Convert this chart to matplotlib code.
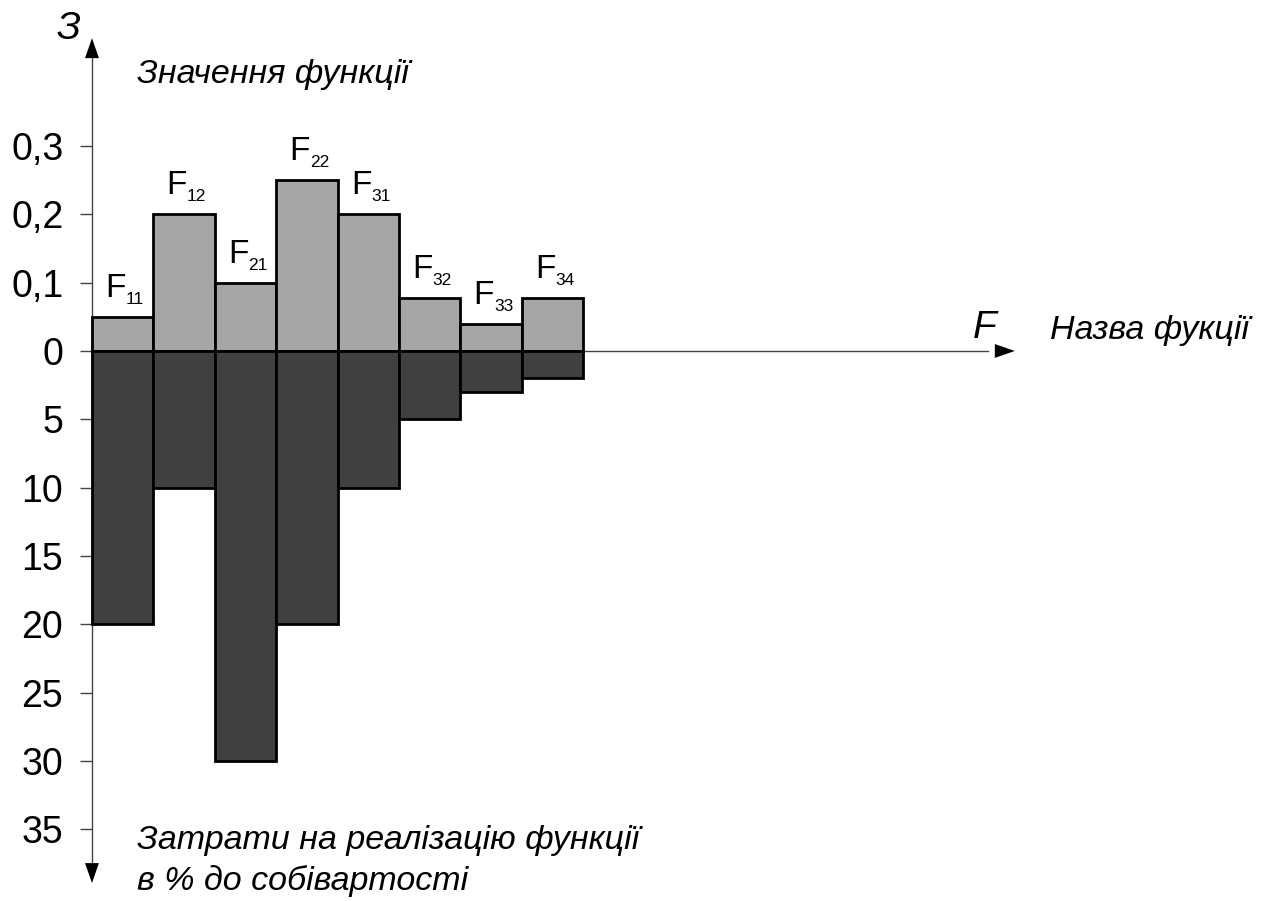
import matplotlib.pyplot as plt
import numpy as np

plt.rcParams['font.family'] = ['Liberation Sans', 'DejaVu Sans']

# function indices (subscripts of F)
functions = ['11', '12', '21', '22', '31', '32', '33', '34']
# value of each function (upper half)
value = [0.05, 0.2, 0.1, 0.25, 0.2, 0.078, 0.04, 0.078]
# cost of realising the function, % of prime cost (lower half)
cost = [20, 10, 30, 20, 10, 5, 3, 2]

upper_ticks = [0.1, 0.2, 0.3]
lower_ticks = [5, 10, 15, 20, 25, 30, 35]

scale = 50  # 0.1 of value is drawn as tall as 5 % of cost

fig = plt.figure(figsize=(12.69, 9.01), dpi=100)
ax = fig.add_axes([0, 0, 1, 1])
ax.set_xlim(-1.498, 19.17)
ax.set_ylim(-40.26, 25.69)

x = np.arange(len(functions))
up = np.array(value) * scale
down = -np.array(cost)
ax.bar(x, up, width=1, align='edge', color='#a6a6a6', edgecolor='black', lw=2, zorder=3)
ax.bar(x, down, width=1, align='edge', color='#404040', edgecolor='black', lw=2, zorder=3)

# y ticks: value labels above zero, cost labels below
ticks = [v * scale for v in upper_ticks] + [0] + [-c for c in lower_ticks]
labels = [('%.1f' % v).replace('.', ',') for v in upper_ticks] + ['0'] + [str(c) for c in lower_ticks]
ax.set_yticks(ticks)
ax.set_yticklabels(labels)
ax.set_xticks([])

for s in ['top', 'right']:
    ax.spines[s].set_visible(False)
ax.spines['left'].set_position(('data', 0))
ax.spines['bottom'].set_position(('data', 0))
ax.spines['left'].set_bounds(-38.0, 22.0)
ax.spines['bottom'].set_bounds(0, 14.6)
ax.spines['left'].set_color('#444444')
ax.spines['bottom'].set_color('#444444')
ax.spines['left'].set_linewidth(1)
ax.spines['bottom'].set_linewidth(1)
ax.tick_params(axis='y', direction='out', length=8.6, width=1, color='#444444',
               labelsize=27, pad=12)

# arrow heads
head = dict(arrowstyle='-|>,head_length=1.44,head_width=0.5', mutation_scale=10,
            fc='black', ec='black', lw=0, shrinkA=0, shrinkB=0)
ax.annotate('', xy=(0, 22.9), xytext=(0, 21.0), arrowprops=head)
ax.annotate('', xy=(0, -38.95), xytext=(0, -37.0), arrowprops=head)
ax.annotate('', xy=(15.03, 0), xytext=(14.5, 0), arrowprops=head)

# bar labels F with subscript
for i, f in enumerate(functions):
    ax.annotate('F', xy=(x[i] + 0.5, up[i]), xytext=(3, 20), textcoords='offset pixels',
                ha='right', va='baseline', fontsize=24)
    ax.annotate(f, xy=(x[i] + 0.5, up[i]), xytext=(3, 13), textcoords='offset pixels',
                ha='left', va='baseline', fontsize=12.5)

W, H = 1269, 901
fig.text(69 / W, 1 - 29 / H, 'З', ha='center', va='center', fontsize=28, style='italic')
fig.text(137 / W, 1 - 75 / H, 'Значення функції', ha='left', va='center', fontsize=24.5, style='italic')
fig.text(985 / W, 1 - 328 / H, 'F', ha='center', va='center', fontsize=28, style='italic')
fig.text(1050 / W, 1 - 330 / H, 'Назва фукції', ha='left', va='center', fontsize=24.5, style='italic')
fig.text(137 / W, 1 - 840 / H, 'Затрати на реалізацію функції', ha='left', va='center',
         fontsize=24.5, style='italic')
fig.text(137 / W, 1 - 881 / H, 'в % до собівартості', ha='left', va='center',
         fontsize=24.5, style='italic')

fig.savefig('out.png', dpi=100)
